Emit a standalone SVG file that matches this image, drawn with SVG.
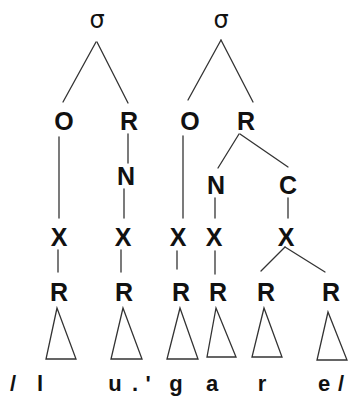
<svg xmlns="http://www.w3.org/2000/svg" width="356" height="398" viewBox="0 0 356 398">
  <style>
    .lbl { font-family: "Liberation Sans", Arial, sans-serif; font-weight: bold; font-size: 25px; fill: #111; text-anchor: middle; }
    .sig { font-family: "DejaVu Sans", "Liberation Sans", sans-serif; font-size: 24px; fill: #111; text-anchor: middle; }
    .seg { font-family: "Liberation Sans", Arial, sans-serif; font-weight: bold; font-size: 22px; fill: #111; text-anchor: middle; }
    .edge { stroke: #333; stroke-width: 1.3; fill: none; stroke-linecap: round; }
    .tri { stroke: #333; stroke-width: 1.3; fill: none; stroke-linejoin: miter; }
  </style>
  <rect width="356" height="398" fill="#fff"/>

  <!-- tree edges -->
  <g id="connectors">
    <line class="edge" x1="96" y1="42" x2="63" y2="102"/>
    <line class="edge" x1="97" y1="42" x2="128" y2="103"/>
    <line class="edge" x1="221" y1="40" x2="188" y2="100"/>
    <line class="edge" x1="221" y1="40" x2="253" y2="102"/>
    <line class="edge" x1="59" y1="137" x2="59" y2="218"/>
    <line class="edge" x1="128" y1="134" x2="128" y2="163"/>
    <line class="edge" x1="124" y1="189" x2="124" y2="218"/>
    <line class="edge" x1="183" y1="136" x2="183" y2="218"/>
    <line class="edge" x1="239" y1="134" x2="218" y2="168"/>
    <line class="edge" x1="240" y1="134" x2="288" y2="167"/>
    <line class="edge" x1="215" y1="198" x2="215" y2="218"/>
    <line class="edge" x1="288" y1="198" x2="288" y2="218"/>
    <line class="edge" x1="58" y1="250" x2="58" y2="272"/>
    <line class="edge" x1="121" y1="250" x2="121" y2="272"/>
    <line class="edge" x1="177" y1="251" x2="177" y2="269"/>
    <line class="edge" x1="215" y1="251" x2="215" y2="274"/>
    <line class="edge" x1="285" y1="247" x2="261" y2="271"/>
    <line class="edge" x1="285" y1="247" x2="325" y2="272"/>
  </g>

  <!-- syllable nodes -->
  <g id="syl1"><text class="sig" x="97" y="28">σ</text></g>
  <g id="syl2"><text class="sig" x="221" y="28">σ</text></g>

  <!-- onset / rhyme -->
  <g id="onset1"><text class="lbl" x="64" y="130">O</text></g>
  <g id="rhyme1"><text class="lbl" x="129" y="130">R</text></g>
  <g id="onset2"><text class="lbl" x="190" y="130">O</text></g>
  <g id="rhyme2"><text class="lbl" x="246" y="130">R</text></g>

  <!-- nucleus / coda -->
  <g id="nucleus1"><text class="lbl" x="126" y="185">N</text></g>
  <g id="nucleus2"><text class="lbl" x="216" y="194">N</text></g>
  <g id="coda2"><text class="lbl" x="288" y="194">C</text></g>

  <!-- timing slots -->
  <g id="x1"><text class="lbl" x="59" y="246">X</text></g>
  <g id="x2"><text class="lbl" x="123" y="246">X</text></g>
  <g id="x3"><text class="lbl" x="178" y="246">X</text></g>
  <g id="x4"><text class="lbl" x="214" y="246">X</text></g>
  <g id="x5"><text class="lbl" x="286" y="246">X</text></g>

  <!-- root nodes with their triangles -->
  <g id="root1">
    <text class="lbl" x="59" y="301">R</text>
    <polygon class="tri" points="57,308 46,359 76,359"/>
  </g>
  <g id="root2">
    <text class="lbl" x="124" y="301">R</text>
    <polygon class="tri" points="123,308 111,359 142,359"/>
  </g>
  <g id="root3">
    <text class="lbl" x="181" y="301">R</text>
    <polygon class="tri" points="180,308 167,359 198,359"/>
  </g>
  <g id="root4">
    <text class="lbl" x="218" y="301">R</text>
    <polygon class="tri" points="216,308 207,357 236,357"/>
  </g>
  <g id="root5">
    <text class="lbl" x="266" y="301">R</text>
    <polygon class="tri" points="264,308 252,357 282,357"/>
  </g>
  <g id="root6">
    <text class="lbl" x="331" y="301">R</text>
    <polygon class="tri" points="328,312 317,360 347,360"/>
  </g>

  <!-- segmental transcription -->
  <g id="transcription">
    <text class="seg" y="391">
      <tspan x="13">/</tspan><tspan x="40">l</tspan><tspan x="115">u</tspan><tspan x="135">.</tspan><tspan x="148">'</tspan><tspan x="176">g</tspan><tspan x="212">a</tspan><tspan x="262">r</tspan><tspan x="324">e</tspan><tspan x="341">/</tspan>
    </text>
  </g>
</svg>
